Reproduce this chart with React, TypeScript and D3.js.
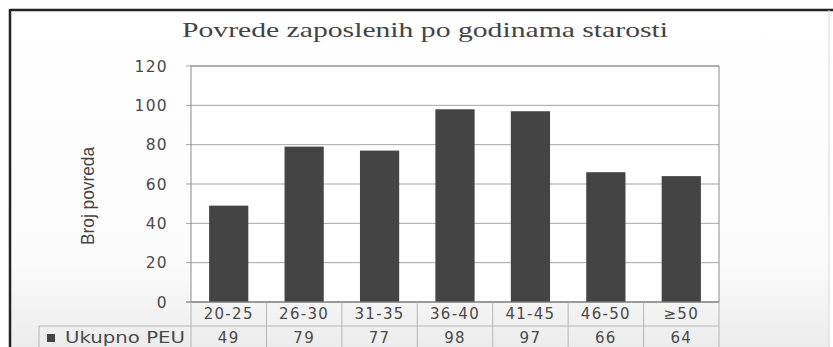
import React from "react";
import * as d3 from "d3";

const TITLE = "Povrede zaposlenih po godinama starosti";
const Y_LABEL = "Broj povreda";
const SERIES_NAME = "Ukupno PEU";
const categories = ["20-25", "26-30", "31-35", "36-40", "41-45", "46-50", "≥50"];
const values = [49, 79, 77, 98, 97, 66, 64];
const yTicks = [0, 20, 40, 60, 80, 100, 120];

const W = 833;
const H = 347;
const plot = { left: 191, right: 719, top: 66, bottom: 302 };
const rowSplit = 326;
const legendLeft = 39;

export default function App() {
  const x = d3
    .scaleBand<string>()
    .domain(categories)
    .range([plot.left, plot.right])
    .paddingInner(0.48)
    .paddingOuter(0.24);
  const y = d3.scaleLinear().domain([0, 120]).range([plot.bottom, plot.top]);
  const bounds = categories.map((_, i) => plot.left + (plot.right - plot.left) * (i / categories.length));
  const bandCenter = (c: string) => (x(c) ?? 0) + x.bandwidth() / 2;
  const font = "'DejaVu Sans', Verdana, sans-serif";
  const txt = "#4a4a4a";

  return (
    <svg
      width={W}
      height={H}
      style={{ position: "absolute", left: 0, top: 0, display: "block" }}
    >
      <defs>
        <linearGradient id="bg" x1="0" y1="0" x2="0" y2="1">
          <stop offset="0" stopColor="#ffffff" />
          <stop offset="0.75" stopColor="#fbfbfb" />
          <stop offset="1" stopColor="#ececec" />
        </linearGradient>
      </defs>
      <rect x={0} y={0} width={W} height={H} fill="#ffffff" />
      <rect x={10} y={10} width={819} height={H - 10} fill="url(#bg)" />
      {/* outer frame */}
      <line x1={10} y1={10} x2={W} y2={10} stroke="#222" strokeWidth={2.5} />
      <line x1={10} y1={9} x2={10} y2={H} stroke="#222" strokeWidth={2.5} />
      <line x1={829} y1={10} x2={829} y2={H} stroke="#d8d8d8" strokeWidth={1} />

      {/* title */}
      <text
        x={425}
        y={37}
        textAnchor="middle"
        fontFamily="'Liberation Serif', 'Times New Roman', serif"
        fontSize={22}
        fill="#444"
        textLength={486}
        lengthAdjust="spacingAndGlyphs"
      >
        {TITLE}
      </text>

      {/* plot area */}
      <rect
        x={plot.left}
        y={plot.top}
        width={plot.right - plot.left}
        height={plot.bottom - plot.top}
        fill="#ffffff"
      />
      {yTicks.map((t) => (
        <g key={t}>
          <line
            x1={plot.left - 5}
            x2={plot.right}
            y1={y(t)}
            y2={y(t)}
            stroke="#a5a5a5"
            strokeWidth={1}
          />
          <text
            x={168}
            y={y(t)}
            dy="0.36em"
            textAnchor="end"
            fontFamily={font}
            fontSize={15.5}
            letterSpacing={1.3}
            fill={txt}
          >
            {t}
          </text>
        </g>
      ))}
      <rect
        x={plot.left}
        y={plot.top}
        width={plot.right - plot.left}
        height={plot.bottom - plot.top}
        fill="none"
        stroke="#8a8a8a"
        strokeWidth={1}
      />

      {/* bars */}
      {categories.map((c, i) => (
        <rect
          key={c}
          x={x(c)}
          y={y(values[i])}
          width={x.bandwidth()}
          height={y(0) - y(values[i])}
          fill="#444444"
        />
      ))}

      {/* y axis title */}
      <text
        transform={`translate(94,196) rotate(-90)`}
        textAnchor="middle"
        fontFamily="'Liberation Sans Narrow', 'Liberation Sans', Arial, sans-serif"
        fontSize={19}
        fill="#444"
        textLength={98}
        lengthAdjust="spacingAndGlyphs"
      >
        {Y_LABEL}
      </text>

      {/* data table */}
      <line x1={plot.left - 5} x2={plot.right} y1={plot.bottom} y2={plot.bottom} stroke="#8a8a8a" />
      <line x1={legendLeft} x2={plot.right} y1={rowSplit} y2={rowSplit} stroke="#b5b5b5" />
      <line x1={legendLeft} x2={legendLeft} y1={rowSplit} y2={H} stroke="#b5b5b5" />
      {[...bounds, plot.right].map((bx, i) => (
        <line key={i} x1={bx} x2={bx} y1={plot.bottom} y2={H} stroke="#b5b5b5" />
      ))}
      {categories.map((c, i) => (
        <g key={c}>
          <text
            x={bandCenter(c)}
            y={314}
            dy="0.36em"
            textAnchor="middle"
            fontFamily={font}
            fontSize={15}
            letterSpacing={1.3}
            fill={txt}
          >
            {c}
          </text>
          <text
            x={bandCenter(c)}
            y={338}
            dy="0.36em"
            textAnchor="middle"
            fontFamily={font}
            fontSize={15}
            letterSpacing={1.3}
            fill={txt}
          >
            {values[i]}
          </text>
        </g>
      ))}
      <rect x={47} y={334} width={8} height={8} fill="#444444" />
      <text
        x={65}
        y={338}
        dy="0.36em"
        fontFamily={font}
        fontSize={15}
        fill={txt}
        textLength={120}
        lengthAdjust="spacingAndGlyphs"
      >
        {SERIES_NAME}
      </text>
    </svg>
  );
}
